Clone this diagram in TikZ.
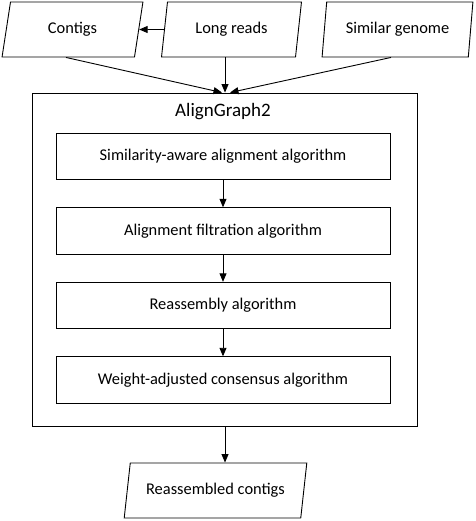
\documentclass[tikz,border=0pt]{standalone}
\usepackage{fontspec}
\setmainfont{Carlito}
\usetikzlibrary{shapes.geometric,arrows.meta}
\begin{document}
\begin{tikzpicture}[x=1pt,y=-1pt,
  line width=0.9pt,
  para/.style={trapezium, trapezium left angle=76.7, trapezium right angle=103.3,
    trapezium stretches=true, draw, minimum height=55pt, inner sep=0pt,
    font=\fontsize{16.4}{19}\selectfont},
  stepbox/.style={rectangle, draw, minimum width=334pt, minimum height=46.5pt,
    inner sep=0pt, font=\fontsize{16.4}{19}\selectfont},
  arr/.style={-{Triangle[length=8.5pt,width=7pt]}}
]
\useasboundingbox (0,0) rectangle (475,521);
\fill[white] (0,0) rectangle (475,521);

\node[para, minimum width=141pt] (ct) at (72.5,29.5) {Contigs};
\node[para, minimum width=141pt] (lr) at (231.5,29.5) {Long reads};
\node[para, minimum width=151pt] (sg) at (397.5,29.5) {Similar genome};

\node[rectangle, draw, minimum width=385pt, minimum height=333pt, inner sep=0pt] (ag) at (224.5,259.5) {};
\node[font=\fontsize{19}{22}\selectfont] (title) at (223,112) {AlignGraph2};

\node[stepbox] (b1) at (223,156.5) {Similarity-aware alignment algorithm};
\node[stepbox] (b2) at (223,231) {Alignment filtration algorithm};
\node[stepbox] (b3) at (223,305.5) {Reassembly algorithm};
\node[stepbox] (b4) at (223,380) {Weight-adjusted consensus algorithm};

\node[para, trapezium left angle=70.9, trapezium right angle=109.1, minimum width=183pt] (ra) at (215.5,490.5) {Reassembled contigs};

\coordinate (ctb) at ([xshift=-6.5pt]ct.south);
\coordinate (lrb) at ([xshift=-6.5pt]lr.south);
\coordinate (sgb) at ([xshift=-6.5pt]sg.south);
\coordinate (t1) at ([xshift=-2.5pt]ag.north);
\coordinate (t3) at ([xshift=5.5pt]ag.north);
\coordinate (rat) at ([xshift=9.5pt]ra.north);

\draw[arr] (lr) -- (ct);
\draw[arr] (ctb) -- (t1);
\draw[arr] (lrb) -- (lrb |- ag.north);
\draw[arr] (sgb) -- (t3);

\draw[arr] (b1) -- (b2);
\draw[arr] (b2) -- (b3);
\draw[arr] (b3) -- (b4);

\draw[arr] (rat |- ag.south) -- (rat);
\end{tikzpicture}
\end{document}
